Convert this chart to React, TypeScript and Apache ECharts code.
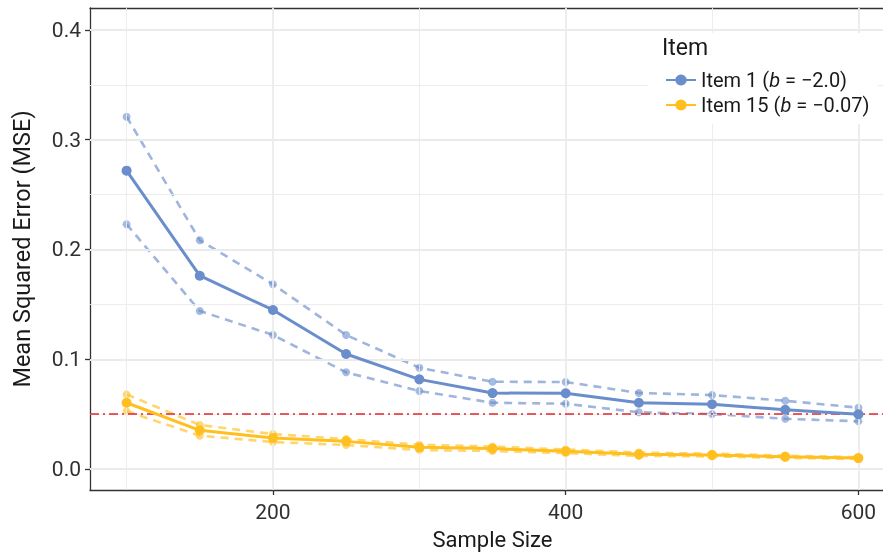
import React, { useEffect, useRef } from "react";
import * as echarts from "echarts";

const sampleSizes = [100, 150, 200, 250, 300, 350, 400, 450, 500, 550, 600];
const item1Mean = [0.2718, 0.1761, 0.1449, 0.1048, 0.0817, 0.0692, 0.069, 0.0604, 0.059, 0.054, 0.0498];
const item1Upper = [0.321, 0.2084, 0.1683, 0.1221, 0.0923, 0.0795, 0.0793, 0.0693, 0.0674, 0.0622, 0.0559];
const item1Lower = [0.223, 0.144, 0.1221, 0.0881, 0.0711, 0.0604, 0.0595, 0.0517, 0.0501, 0.0458, 0.0435];
const item15Mean = [0.0604, 0.0353, 0.0282, 0.0252, 0.0198, 0.0186, 0.0161, 0.0134, 0.0128, 0.0112, 0.01];
const item15Upper = [0.068, 0.0401, 0.0319, 0.0273, 0.0221, 0.0205, 0.0178, 0.015, 0.014, 0.0122, 0.0108];
const item15Lower = [0.0526, 0.0304, 0.0246, 0.0219, 0.0173, 0.0165, 0.0145, 0.012, 0.0115, 0.0102, 0.0092];
const xTicks = [200, 400, 600];
const xMinorGrid = [100, 300, 500];
const yTicks = [0, 0.1, 0.2, 0.3, 0.4];
const yMinorGrid = [0.05, 0.15, 0.25, 0.35];
const threshold = 0.05;

const BLUE = "#6a8ecb";
const YELLOW = "#ffbf1f";
const FONT = "Roboto, 'Liberation Sans', sans-serif";

const pairs = (ys: number[]) => sampleSizes.map((x, i) => [x, ys[i]]);

export default function App() {
  const ref = useRef<HTMLDivElement>(null);
  useEffect(() => {
    if (!ref.current) return;
    const chart = echarts.init(ref.current, undefined, { renderer: "svg" });

    const solid = (name: string, ys: number[], color: string) => ({
      name,
      type: "line",
      data: pairs(ys),
      symbol: "circle",
      symbolSize: 10,
      itemStyle: { color },
      lineStyle: { color, width: 3 },
      z: 5,
    });
    const dashed = (name: string, ys: number[], color: string) => ({
      name,
      type: "line",
      data: pairs(ys),
      symbol: "circle",
      symbolSize: 8,
      itemStyle: { color, opacity: 0.6 },
      lineStyle: { color, width: 2.6, type: [8, 6], opacity: 0.65 },
      z: 4,
    });

    const gridLines = [
      ...yTicks.map((v) => ({ yAxis: v, lineStyle: { color: "#ebebeb", width: 1.8, type: "solid" } })),
      ...yMinorGrid.map((v) => ({ yAxis: v, lineStyle: { color: "#ebebeb", width: 0.9, type: "solid" } })),
      ...xTicks.map((v) => ({ xAxis: v, lineStyle: { color: "#ebebeb", width: 1.8, type: "solid" } })),
      ...xMinorGrid.map((v) => ({ xAxis: v, lineStyle: { color: "#ebebeb", width: 0.9, type: "solid" } })),
    ];

    const axisLineStyle = { show: true, onZero: false, lineStyle: { color: "#333", width: 1.3 } };

    chart.setOption({
      animation: false,
      textStyle: { fontFamily: FONT },
      grid: {
        left: 90,
        top: 8,
        width: 805,
        height: 482,
        show: false,
        containLabel: false,
        outerBoundsMode: "none",
      },
      xAxis: [
        {
          type: "value",
          min: 75,
          max: 625,
          name: "Sample Size",
          nameLocation: "middle",
          nameGap: 38,
          nameTextStyle: { fontSize: 22, color: "#1a1a1a", fontFamily: FONT },
          axisLine: axisLineStyle,
          splitLine: { show: false },
          axisTick: { show: true, length: 5, lineStyle: { color: "#333", width: 1.3 }, customValues: xTicks },
          axisLabel: { customValues: xTicks, fontSize: 21, color: "#303030", margin: 11, fontFamily: FONT },
        },
        {
          type: "value",
          position: "top",
          min: 75,
          max: 625,
          axisLine: axisLineStyle,
          axisTick: { show: false },
          axisLabel: { show: false },
          splitLine: { show: false },
        },
      ],
      yAxis: {
        type: "value",
        min: -0.0191,
        max: 0.42,
        name: "Mean Squared Error (MSE)",
        nameLocation: "middle",
        nameGap: 56,
        nameTextStyle: { fontSize: 23.5, color: "#1a1a1a", fontFamily: FONT },
        axisLine: axisLineStyle,
        splitLine: { show: false },
        axisTick: { show: true, length: 5, lineStyle: { color: "#333", width: 1.3 }, customValues: yTicks },
        axisLabel: {
          customValues: yTicks,
          fontSize: 21,
          color: "#303030",
          margin: 9,
          fontFamily: FONT,
          formatter: (v: number) => v.toFixed(1),
        },
      },
      legend: {
        data: ["Item 1", "Item 15"],
        orient: "vertical",
        left: 648,
        top: 33,
        padding: [36, 8, 8, 17],
        backgroundColor: "#fff",
        itemWidth: 30,
        itemHeight: 14,
        itemGap: 3,
        z: 10,
        textStyle: {
          fontSize: 20,
          lineHeight: 22,
          color: "#1a1a1a",
          fontFamily: FONT,
          rich: { i: { fontStyle: "italic", fontSize: 20, fontFamily: FONT, color: "#1a1a1a" } },
        },
        formatter: (name: string) =>
          name === "Item 1" ? "Item 1 ({i|b} = −2.0)" : "Item 15 ({i|b} = −0.07)",
      },
      graphic: [
        {
          type: "text",
          left: 662,
          top: 36,
          z: 100,
          style: { text: "Item", fontSize: 23, fill: "#1a1a1a", fontFamily: FONT },
        },
      ],
      series: [
        {
          name: "grid",
          type: "line",
          data: [],
          silent: true,
          z: 1,
          markLine: { silent: true, symbol: "none", label: { show: false }, data: gridLines, animation: false },
        },
        dashed("Item 1 upper", item1Upper, BLUE),
        dashed("Item 1 lower", item1Lower, BLUE),
        dashed("Item 15 upper", item15Upper, YELLOW),
        dashed("Item 15 lower", item15Lower, YELLOW),
        solid("Item 1", item1Mean, BLUE),
        solid("Item 15", item15Mean, YELLOW),
        {
          name: "threshold",
          type: "line",
          data: [],
          silent: true,
          z: 8,
          markLine: {
            silent: true,
            symbol: "none",
            label: { show: false },
            data: [{ yAxis: threshold }],
            lineStyle: { color: "#e3262b", width: 1.5, type: [9, 4, 2, 4] },
          },
        },
      ],
    });
    return () => chart.dispose();
  }, []);
  return <div ref={ref} style={{ position: "fixed", left: 0, top: 0, width: 883, height: 556 }} />;
}
